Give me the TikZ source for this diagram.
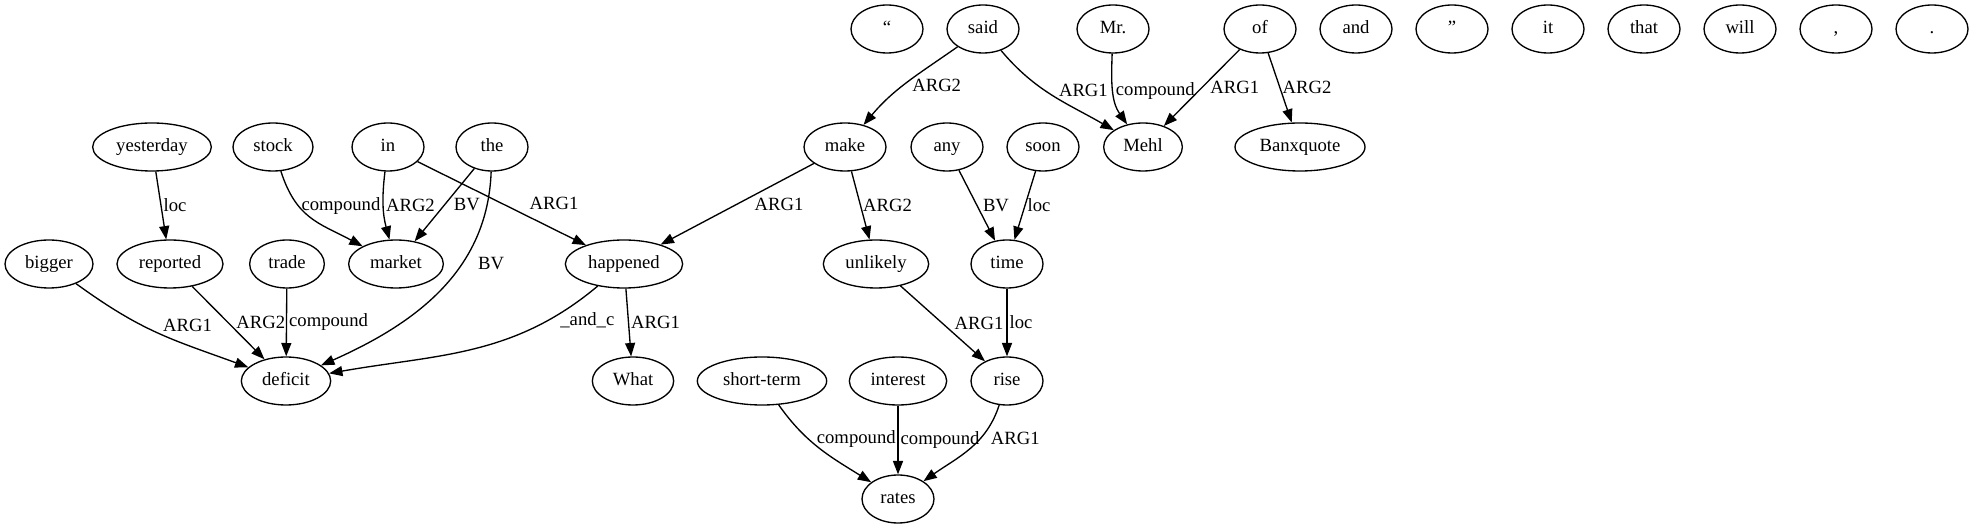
\documentclass[tikz,border=0pt]{standalone}
\usepackage{fontspec}
\setmainfont{Liberation Serif}
\usetikzlibrary{arrows.meta,positioning,shapes.geometric}

\begin{document}
\begin{tikzpicture}[x=0.75pt, y=0.75pt, node distance=72pt,
  font=\fontsize{14}{17}\selectfont, inner sep=1.5pt,
  word/.style={draw, ellipse, line width=1pt, minimum width=54pt, minimum height=36pt,
    inner sep=0pt, text height=10pt, text depth=2.5pt},
  link/.style={-{Triangle[length=10pt,width=7.5pt]}, line width=1pt}]
\useasboundingbox (0,0) rectangle (1973,528);

% top row
\node [word] (lquote) at (887,499) {“};
\node [word] (said) [right of=lquote] {said};
\node [word] (mr) at (1113,499) {Mr.};
\node [word] (of) at (1260,499) {of};
\node [word] (and) [right of=of] {and};
\node [word] (rquote) [right of=and] {”};
\node [word] (it) [right of=rquote] {it};
\node [word] (that) [right of=it] {that};
\node [word] (will) [right of=that] {will};
\node [word] (comma) [right of=will] {,};
\node [word] (period) [right of=comma] {.};

% second row
\node [word, minimum width=89pt] (yesterday) at (152,381) {yesterday};
\node [word, minimum width=60pt] (stock) at (273,381) {stock};
\node [word] (in) at (388,381) {in};
\node [word] (the) at (492,381) {the};
\node [word, minimum width=61.5pt] (make) at (845,381) {make};
\node [word] (any) at (947,381) {any};
\node [word] (soon) [right of=any] {soon};
\node [word, minimum width=59pt] (mehl) at (1143,381) {Mehl};
\node [word, minimum width=97.5pt] (banxquote) at (1300,381) {Banxquote};

% third row
\node [word, minimum width=66pt] (bigger) at (49,264) {bigger};
\node [word, minimum width=79.5pt] (reported) at (170,264) {reported};
\node [word, minimum width=56pt] (trade) at (287,264) {trade};
\node [word, minimum width=71pt] (market) at (396,264) {market};
\node [word, minimum width=88pt] (happened) at (624,264) {happened};
\node [word, minimum width=79pt] (unlikely) at (876,264) {unlikely};
\node [word] (time) at (1007,264) {time};

% fourth row
\node [word, minimum width=67pt] (deficit) at (286,147) {deficit};
\node [word, minimum width=61pt] (what) at (633,147) {What};
\node [word, minimum width=97pt] (shortterm) at (762,147) {short-term};
\node [word, minimum width=73pt] (interest) at (898,147) {interest};
\node [word] (rise) at (1007,147) {rise};

% bottom row
\node [word] (rates) at (898,29) {rates};

\path [link]
(yesterday) edge node [right] {loc} (reported)
(stock) edge [out=-72, in=152, looseness=1.15] node [pos=0.33, right] {compound} (market)
(in) edge [out=-97, in=105] node [right] {ARG2} (market)
(the) edge node [right, xshift=5pt] {BV} (market)
(the) edge [out=-92, in=24] node [pos=0.36, right, xshift=10pt] {BV} (deficit)
(in) edge node [right, xshift=19pt] {ARG1} (happened)
(said) edge [out=215, in=50] node [pos=0.55, right, xshift=5pt] {ARG2} (make)
(said) edge [out=-50, in=150] node [pos=0.42, right, xshift=9pt] {ARG1} (mehl)
(mr) edge [out=-92, in=125] node [right] {compound} (mehl)
(of) edge node [right, xshift=4.5pt] {ARG1} (mehl)
(of) edge node [right] {ARG2} (banxquote)
(make) edge node [right, xshift=11pt] {ARG1} (happened)
(make) edge node [right] {ARG2} (unlikely)
(any) edge node [right, xshift=2.5pt] {BV} (time)
(soon) edge node [right] {loc} (time)
(bigger) edge [out=-36, in=160, looseness=1.1] node [pos=0.4, right, xshift=13pt] {ARG1} (deficit)
(reported) edge node [right, xshift=4pt] {ARG2} (deficit)
(trade) edge node [right] {compound} (deficit)
(happened) edge [out=220, in=10] node [pos=0.2, right, xshift=7.5pt] {\_and\_c} (deficit)
(happened) edge node [right] {ARG1} (what)
(unlikely) edge node [right, xshift=7pt] {ARG1} (rise)
(time) edge node [right] {loc} (rise)
(shortterm) edge [out=-55, in=148] node [pos=0.37, right, xshift=4pt] {compound} (rates)
(interest) edge node [right] {compound} (rates)
(rise) edge [out=-108, in=35] node [pos=0.35, right, xshift=6pt] {ARG1} (rates);
\end{tikzpicture}
\end{document}
